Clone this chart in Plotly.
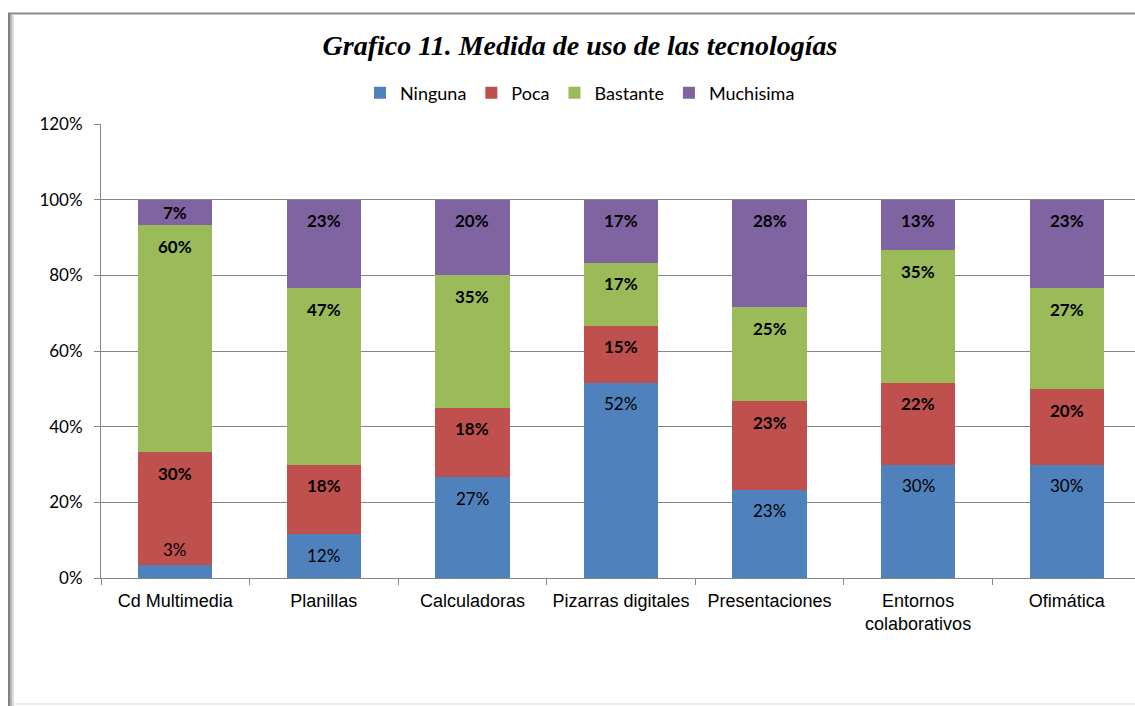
import plotly.graph_objects as go

categories = ["Cd Multimedia", "Planillas", "Calculadoras", "Pizarras digitales",
              "Presentaciones", "Entornos<br>colaborativos", "Ofimática"]
series_names = ["Ninguna", "Poca", "Bastante", "Muchisima"]
ninguna = [3.33, 11.67, 26.67, 51.67, 23.33, 30.0, 30.0]
poca = [30.0, 18.33, 18.33, 15.0, 23.33, 21.67, 20.0]
bastante = [60.0, 46.67, 35.0, 16.67, 25.0, 35.0, 26.67]
muchisima = [6.67, 23.33, 20.0, 16.67, 28.33, 13.33, 23.33]
y_ticks = [0, 20, 40, 60, 80, 100, 120]
title_text = "Grafico 11. Medida de uso de las tecnologías"

colors = ["#4F81BD", "#C0504D", "#9BBB59", "#8064A2"]
all_series = [ninguna, poca, bastante, muchisima]

W, H = 1135, 706
L, R, T, B = 101, 0, 124, 128

fig = go.Figure()
for name, vals, col in zip(series_names, all_series, colors):
    fig.add_trace(go.Bar(name=name, x=categories, y=vals, marker_color=col,
                         marker_line_width=0))

# data labels
annotations = []
cum = [0.0] * len(categories)
for si, vals in enumerate(all_series):
    for ci, v in enumerate(vals):
        bottom = cum[ci]
        top = bottom + v
        cum[ci] = top
        txt = f"{round(v)}%"
        fnt = dict(family="Lato", size=17, color="black",
                   weight="normal" if si == 0 else "bold")
        if v < 5:
            annotations.append(dict(x=categories[ci], y=top, xref="x", yref="y",
                                    text=txt, showarrow=False, yanchor="bottom",
                                    yshift=3, font=fnt))
        else:
            ypos = max(top - 5.6, (top + bottom) / 2)
            annotations.append(dict(x=categories[ci], y=ypos, xref="x", yref="y",
                                    text=txt, showarrow=False, yanchor="middle",
                                    font=fnt))

def px_x(p):
    return (p - L) / (W - L - R)

def px_y(p):
    return (H - B - p) / (H - T - B)

shapes = [
    # outer frame
    dict(type="line", xref="paper", yref="paper", x0=px_x(8), x1=px_x(1135),
         y0=px_y(13.5), y1=px_y(13.5), line=dict(color="#8a8a8a", width=2), layer="above"),
    dict(type="rect", xref="paper", yref="paper", x0=px_x(8), x1=px_x(10.5),
         y0=px_y(13), y1=px_y(706), line_width=0, fillcolor="#7f7f7f"),
    dict(type="rect", xref="paper", yref="paper", x0=px_x(10.5), x1=px_x(12),
         y0=px_y(15), y1=px_y(706), line_width=0, fillcolor="#b3b3b3"),
    dict(type="rect", xref="paper", yref="paper", x0=px_x(12), x1=px_x(14),
         y0=px_y(15), y1=px_y(706), line_width=0, fillcolor="#dcdcdc"),
    dict(type="line", xref="paper", yref="paper", x0=px_x(14), x1=px_x(1135),
         y0=px_y(704), y1=px_y(704), line=dict(color="#d9d9d9", width=1)),
]

fig.update_layout(
    width=W, height=H, autosize=False,
    margin=dict(l=L, r=R, t=T, b=B, pad=0),
    paper_bgcolor="white", plot_bgcolor="white",
    barmode="stack", bargap=0.5,
    title=dict(text=title_text, x=580 / W, y=1 - 45 / H, xref="container", yref="container",
               xanchor="center", yanchor="middle",
               font=dict(family="Liberation Serif", size=28, color="black",
                         style="italic", weight="bold")),
    legend=dict(orientation="h", x=px_x(580), y=px_y(93), xanchor="center", yanchor="middle",
                font=dict(family="Lato", size=18, color="black"), itemwidth=30,
                traceorder="normal", bgcolor="rgba(0,0,0,0)"),
    xaxis=dict(type="category", range=[-0.5, 6.46], showline=True, linecolor="#868686",
               linewidth=1, ticks="outside", tickson="boundaries", ticklen=6,
               tickcolor="#868686", showgrid=False, ticklabelstandoff=6,
               tickfont=dict(family="Liberation Sans", size=18, color="black")),
    yaxis=dict(range=[0, 120], tickvals=y_ticks, ticktext=[f"{t}%" for t in y_ticks],
               showline=True, linecolor="#868686", linewidth=1, ticks="outside",
               ticklen=6, tickcolor="#868686", showgrid=True, gridcolor="#868686",
               gridwidth=1, zeroline=False, ticklabelstandoff=8,
               tickfont=dict(family="Lato", size=17, color="black")),
    annotations=annotations,
    shapes=shapes,
)

fig.write_html("out.html", config={"displayModeBar": False},
               post_script="document.body.style.margin='0';document.body.style.overflow='hidden';")
